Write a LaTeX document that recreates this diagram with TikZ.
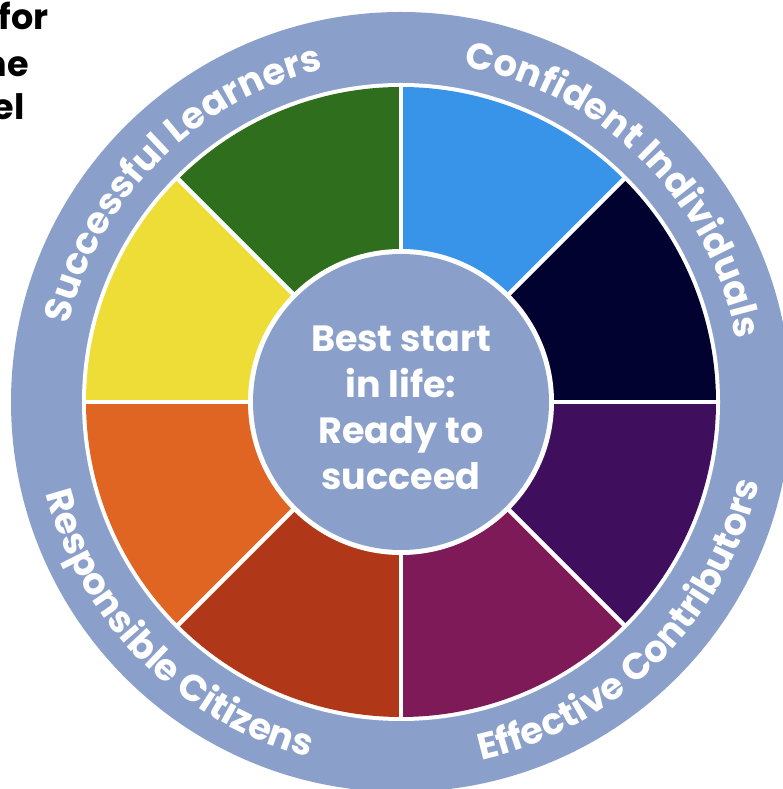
\documentclass[tikz,border=0pt]{standalone}
\usepackage{fontspec}
\setmainfont{Poppins}
\usetikzlibrary{decorations.text}

\definecolor{ringblue}{HTML}{8AA0CA}
\definecolor{segGreen}{HTML}{2E6E1C}
\definecolor{segBlue}{HTML}{3894E8}
\definecolor{segNavy}{HTML}{020230}
\definecolor{segPurple}{HTML}{3F0E5D}
\definecolor{segPlum}{HTML}{7D1A57}
\definecolor{segRust}{HTML}{B03818}
\definecolor{segOrange}{HTML}{E06522}
\definecolor{segYellow}{HTML}{EEDD36}

\newcommand\ringfont{\bfseries\fontsize{37}{37}\selectfont}

\tikzset{
  ringlabel/.style={decorate, decoration={text along path, text align=center,
      text color=white}},
  headfrag/.style={anchor=base east, inner sep=0pt,
      font=\bfseries\fontsize{35}{35}\selectfont, text=black},
}

\begin{document}
\begin{tikzpicture}[x=1pt,y=1pt]
\useasboundingbox (0,0) rectangle (783,789);
\clip (0,0) rectangle (783,789);
\coordinate (C) at (401,387);

% outer ring and the white gap inside it
\fill[ringblue] (C) circle[radius=390];
\fill[white] (C) circle[radius=319];

% eight coloured segments
\foreach \a/\col in {90/segGreen, 45/segBlue, 0/segNavy, -45/segPurple,
                     -90/segPlum, -135/segRust, 180/segOrange, 135/segYellow}{
  \fill[\col] (C) -- ++(\a:315) arc[start angle=\a, end angle=\a+45, radius=315] -- cycle;
}
% white separators between segments
\foreach \a in {0,45,...,315}{
  \draw[white, line width=4.5pt] (C) -- ++(\a:317);
}

% hub
\fill[white] (C) circle[radius=153];
\fill[ringblue] (C) circle[radius=148];
\node[align=center, text=white, inner sep=0pt,
      font=\bfseries\fontsize{36.5}{46}\selectfont] (hub) at (401,381)
  {Best start\\in life:\\Ready to\\succeed};

% labels around the ring
\path[ringlabel, decoration={text={|\ringfont|Successful Learners}}]
  (C) ++(225:341) arc[start angle=225, end angle=45, radius=341];
\path[ringlabel, decoration={text={|\ringfont|Confident Individuals}}]
  (C) ++(135:341) arc[start angle=135, end angle=-45, radius=341];
\path[ringlabel, decoration={text={|\ringfont|Effective Contributors}}]
  (C) ++(-135:367) arc[start angle=-135, end angle=45, radius=367];
\path[ringlabel, decoration={text={|\ringfont|Responsible Citizens}}]
  (C) ++(135:367) arc[start angle=135, end angle=315, radius=367];

% heading fragments at the top-left edge
\node[headfrag] (frag1) at (49,759) {for};
\node[headfrag] (frag2) at (29,712) {he};
\node[headfrag] (frag3) at (25,669) {el};
\end{tikzpicture}
\end{document}
